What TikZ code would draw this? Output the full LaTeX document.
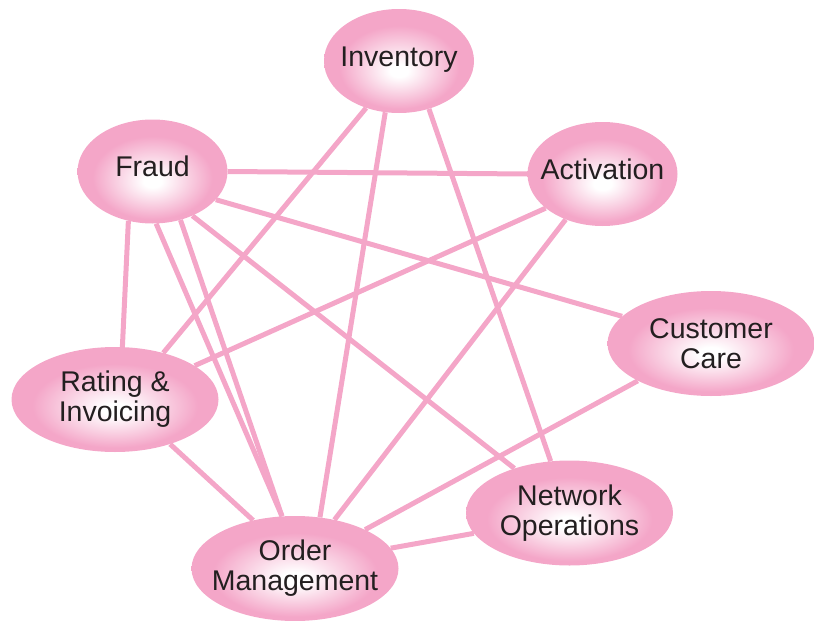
\documentclass[tikz,border=0pt]{standalone}
\usepackage{fontspec}
\setmainfont{Liberation Sans}
\usetikzlibrary{shapes.geometric,backgrounds}
\definecolor{blobpink}{HTML}{F4A6C8}
\definecolor{blobtext}{HTML}{231F20}
\pgfdeclareradialshading{blobglow}{\pgfpoint{0bp}{-5bp}}{color(0bp)=(white); color(3bp)=(white); color(20bp)=(blobpink); color(50bp)=(blobpink)}
% a text line that does not widen its ellipse
\newcommand{\blobline}[1]{\makebox[0pt]{#1}}

\begin{document}
\begin{tikzpicture}[x=1pt,y=-1pt]
    \tikzset{
        blob/.style={ellipse,inner sep=0pt,shading=blobglow,text=blobtext,
            align=center,font=\fontsize{28.5}{30}\selectfont},
        smallblob/.style={blob,minimum width=150pt,minimum height=104pt,
            text height=20pt,text depth=10pt},
        bigblob/.style={blob,minimum width=207pt,minimum height=105pt},
        link/.style={draw=blobpink,line width=5pt}
    }
    \useasboundingbox (0,0) rectangle (814,621);
    % systems
    \node[smallblob] (inv) at (399,61) {\blobline{Inventory}};
    \node[smallblob] (fraud) at (152.5,171.5) {\blobline{Fraud}};
    \node[smallblob] (act) at (602.5,174) {\blobline{Activation}};
    \node[bigblob] (care) at (711,343.5) {\blobline{Customer}\\\blobline{Care}};
    \node[bigblob] (rate) at (115,399.5) {\blobline{Rating \&}\\\blobline{Invoicing}};
    \node[bigblob] (net) at (569.5,513) {\blobline{Network}\\\blobline{Operations}};
    \node[bigblob] (order) at (295,568.5) {\blobline{Order}\\\blobline{Management}};
    % links behind the systems
    \begin{scope}[on background layer]
        \draw[link] (inv.235) -- (rate.44);
        \draw[link] (inv.255) -- (order.64.5);
        \draw[link] (inv.302) -- (net.110.4);
        \draw[link] (fraud.0) -- (act.180);
        \draw[link] (fraud.336) -- (care.163.6);
        \draw[link] (fraud.244.6) -- (rate.82.5);
        \draw[link] (fraud.274.7) -- (order.104.4);
        \draw[link] (fraud.300) -- (order.104);
        \draw[link] (fraud.312) -- (net.141.6);
        \draw[link] (act.211) -- (rate.23.3);
        \draw[link] (act.231) -- (order.51.6);
        \draw[link] (care.207) -- (order.29.5);
        \draw[link] (rate.321) -- (order.131.8);
        \draw[link] (net.192.3) -- (order.12);
    \end{scope}
\end{tikzpicture}
\end{document}
